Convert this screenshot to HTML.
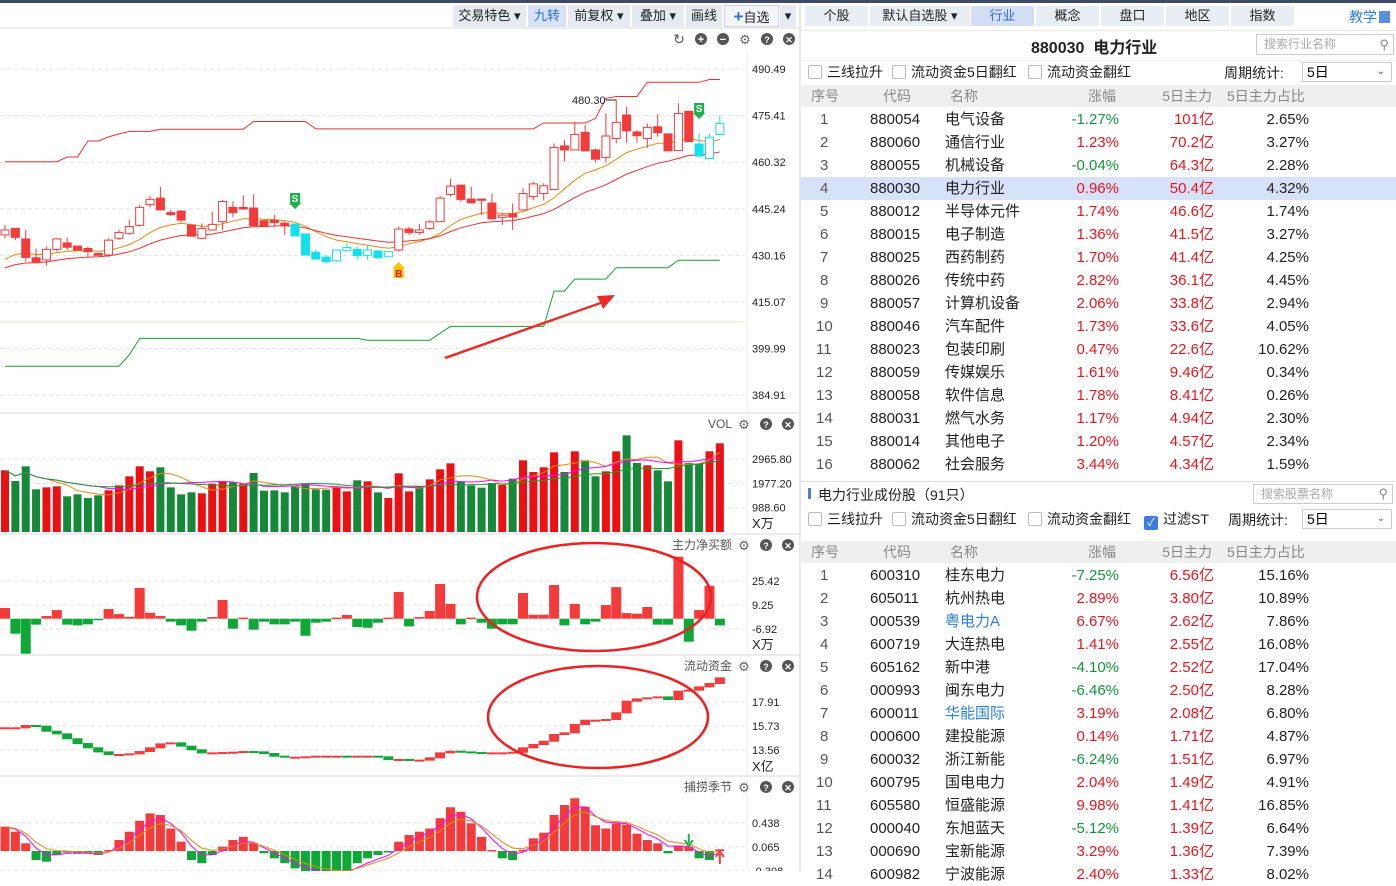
<!DOCTYPE html>
<html><head><meta charset="utf-8"><style>
*{margin:0;padding:0;box-sizing:border-box}
body{width:1396px;height:871px;overflow:hidden;background:#fff;font-family:"Liberation Sans","Noto Sans CJK SC",sans-serif;position:relative}
.abs{position:absolute}
.tb{position:absolute;top:5px;height:22px;background:#e6eaf0;font-size:13px;line-height:22px;text-align:center;color:#222}
.tab{position:absolute;top:6px;height:20px;background:#e8ecf3;font-size:13px;line-height:20px;text-align:center;color:#222}
.cb{position:absolute;font-size:14px;color:#222;line-height:18px}
.cb i{display:inline-block;width:14px;height:14px;border:1px solid #bbb;border-radius:2px;vertical-align:-2px;margin-right:5px;background:#fff}
.hdr{position:absolute;left:800px;width:596px;height:22px;background:#efefef;font-size:14px;color:#888;line-height:22px}
.row{position:absolute;left:800px;width:596px;height:23px;font-size:15px;line-height:23px;color:#222}
.row span,.hdr span{position:absolute}
.up{color:#e8141c}.dn{color:#13943c}
</style></head><body>
<div class="abs" style="left:0;top:0;width:1396px;height:3px;background:#3c4a66"></div>
<div class="abs" style="left:799px;top:3px;width:2px;height:868px;background:#e4e6ea"></div>

<div class="tb" style="left:453px;width:73px">交易特色 ▾</div>
<div class="tb" style="left:528px;width:38px;background:#d8e2f6;color:#2a6fd6">九转</div>
<div class="tb" style="left:568px;width:62px">前复权 ▾</div>
<div class="tb" style="left:632px;width:52px">叠加 ▾</div>
<div class="tb" style="left:686px;width:36px">画线</div>
<div class="tb" style="left:724px;width:55px;background:#f2f4f8;border:1px solid #cfd5de"><b style="color:#2a6fd6;font-size:17px">+</b>自选</div>
<div class="tb" style="left:780px;width:16px">▾</div>

<svg id="chart" class="abs" style="left:0;top:0" width="800" height="871"></svg>

<div class="tab" style="left:805px;width:63px">个股</div>
<div class="tab" style="left:870px;width:100px">默认自选股 ▾</div>
<div class="tab" style="left:971px;width:63px;background:#d3ddf3;color:#2a6fd6">行业</div>
<div class="tab" style="left:1036px;width:63px">概念</div>
<div class="tab" style="left:1101px;width:63px">盘口</div>
<div class="tab" style="left:1166px;width:63px">地区</div>
<div class="tab" style="left:1231px;width:63px">指数</div>
<div class="abs" style="left:1349px;top:7px;font-size:14px;color:#2a7de1">教学<span style="display:inline-block;width:11px;height:12px;background:#5b8fe0;margin-left:2px;vertical-align:-1px"></span></div>
<div class="abs" style="left:800px;top:30px;width:596px;height:1px;background:#e3e6ec"></div>
<div class="abs" style="left:1031px;top:34px;font-size:16px;font-weight:bold;color:#222">880030&nbsp; 电力行业</div>
<div class="abs" style="left:1256px;top:34px;width:138px;height:21px;border:1px solid #ccc;font-size:12px;color:#aaa;line-height:19px;padding-left:7px">搜索行业名称<span style="position:absolute;right:4px;top:0;color:#888;font-size:13px">⚲</span></div>
<div class="abs" style="left:800px;top:60px;width:596px;height:1px;background:#eceef2"></div>
<div class="cb" style="left:808px;top:63px"><i></i>三线拉升</div>
<div class="cb" style="left:892px;top:63px"><i></i>流动资金5日翻红</div>
<div class="cb" style="left:1028px;top:63px"><i></i>流动资金翻红</div>
<div class="cb" style="left:1224px;top:64px">周期统计:</div>
<div class="abs" style="left:1302px;top:62px;width:90px;height:20px;border:1px solid #ccc;font-size:14px;line-height:18px;padding-left:4px">5日<span style="position:absolute;right:6px;font-size:10px;color:#555">⌄</span></div>

<div id="t1"></div>

<div class="abs" style="left:800px;top:481px;width:596px;height:1px;background:#dcdfe6"></div>
<div class="abs" style="left:808px;top:488px;width:3px;height:11px;background:#4a7fe0"></div>
<div class="abs" style="left:818px;top:485px;font-size:14px;color:#222">电力行业成份股（91只）</div>
<div class="abs" style="left:1253px;top:484px;width:140px;height:20px;border:1px solid #ccc;font-size:12px;color:#aaa;line-height:18px;padding-left:7px">搜索股票名称<span style="position:absolute;right:4px;top:0;color:#888;font-size:13px">⚲</span></div>
<div class="cb" style="left:808px;top:510px"><i></i>三线拉升</div>
<div class="cb" style="left:892px;top:510px"><i></i>流动资金5日翻红</div>
<div class="cb" style="left:1028px;top:510px"><i></i>流动资金翻红</div>
<div class="cb" style="left:1144px;top:510px"><i style="background:#3d7ae6;border-color:#3d7ae6;color:#fff;font-style:normal;font-size:11px;line-height:12px;text-align:center">✓</i>过滤ST</div>
<div class="cb" style="left:1228px;top:511px">周期统计:</div>
<div class="abs" style="left:1302px;top:509px;width:90px;height:20px;border:1px solid #ccc;font-size:14px;line-height:18px;padding-left:4px">5日<span style="position:absolute;right:6px;font-size:10px;color:#555">⌄</span></div>
<div id="t2"></div>

<script>
const ind=[["880054","电气设备","-1.27%","101亿","2.65%"],["880060","通信行业","1.23%","70.2亿","3.27%"],["880055","机械设备","-0.04%","64.3亿","2.28%"],["880030","电力行业","0.96%","50.4亿","4.32%"],["880012","半导体元件","1.74%","46.6亿","1.74%"],["880015","电子制造","1.36%","41.5亿","3.27%"],["880025","西药制药","1.70%","41.4亿","4.25%"],["880026","传统中药","2.82%","36.1亿","4.45%"],["880057","计算机设备","2.06%","33.8亿","2.94%"],["880046","汽车配件","1.73%","33.6亿","4.05%"],["880023","包装印刷","0.47%","22.6亿","10.62%"],["880059","传媒娱乐","1.61%","9.46亿","0.34%"],["880058","软件信息","1.78%","8.41亿","0.26%"],["880031","燃气水务","1.17%","4.94亿","2.30%"],["880014","其他电子","1.20%","4.57亿","2.34%"],["880062","社会服务","3.44%","4.34亿","1.59%"]];
const stk=[["600310","桂东电力","-7.25%","6.56亿","15.16%"],["605011","杭州热电","2.89%","3.80亿","10.89%"],["000539","粤电力A","6.67%","2.62亿","7.86%"],["600719","大连热电","1.41%","2.55亿","16.08%"],["605162","新中港","-4.10%","2.52亿","17.04%"],["000993","闽东电力","-6.46%","2.50亿","8.28%"],["600011","华能国际","3.19%","2.08亿","6.80%"],["000600","建投能源","0.14%","1.71亿","4.87%"],["600032","浙江新能","-6.24%","1.51亿","6.97%"],["600795","国电电力","2.04%","1.49亿","4.91%"],["605580","恒盛能源","9.98%","1.41亿","16.85%"],["000040","东旭蓝天","-5.12%","1.39亿","6.64%"],["000690","宝新能源","3.29%","1.36亿","7.39%"],["600982","宁波能源","2.40%","1.33亿","8.02%"]];
const blueNames=["粤电力A","华能国际"];
function table(host,rows,hy,hl){
  const h=document.createElement('div');h.className='hdr';h.style.top=hy+'px';
  
  
  h.innerHTML='<span style="left:11px">序号</span><span style="left:83px">代码</span><span style="left:150px">名称</span><span style="right:280px">涨幅</span><span style="right:184px">5日主力</span><span style="left:427px">5日主力占比</span>';
  host.appendChild(h);
  rows.forEach((r,i)=>{
    const d=document.createElement('div');d.className='row';d.style.top=(hy+23+i*23)+'px';
    
    
    if(i===hl)d.style.background='#d7e1f9';
    const c=r[2][0]==='-'?'dn':'up';
    const nc=blueNames.includes(r[1])?'style="left:145px;color:#2a7de1"':'style="left:145px"';
    d.innerHTML=`<span style="left:${i<9?20:16}px;color:#555">${i+1}</span><span style="left:70px">${r[0]}</span><span ${nc}>${r[1]}</span><span class="${c}" style="right:277px">${r[2]}</span><span class="up" style="right:182px">${r[3]}</span><span style="right:87px">${r[4]}</span>`;
    host.appendChild(d);
  });
}
table(document.getElementById('t1'),ind,85,3);
table(document.getElementById('t2'),stk,541,-1);

const bodyHi=[438.4,438.9,435.5,429.4,432.1,435.5,434.2,433.2,432.4,430.8,435.1,437.6,439.5,445.7,448.3,448.7,444.0,444.5,440.0,438.9,440.2,447.6,445.7,445.7,445.5,441.4,441.5,440.6,440.3,437.1,431.2,429.6,431.9,432.7,432.1,431.9,431.6,431.4,438.7,438.7,438.4,441.0,448.7,452.6,452.9,448.4,448.4,447.1,443.2,443.6,450.2,453.3,452.7,465.1,465.6,469.3,470.0,464.3,468.8,473.2,475.6,470.1,471.6,471.8,469.5,476.1,476.8,466.2,468.4,472.9];
const bodyLo=[436.8,436.0,429.5,428.1,428.7,432.1,432.8,431.9,431.4,430.2,430.3,435.7,437.3,439.9,446.6,444.9,443.4,441.6,436.4,435.7,438.4,441.1,444.0,445.2,439.8,439.5,440.8,440.0,436.5,430.3,429.0,428.1,428.4,431.7,430.1,430.2,429.5,429.7,431.9,437.6,437.6,438.9,441.1,449.9,448.3,447.2,448.0,442.0,442.5,442.6,444.9,449.2,450.2,451.5,464.3,464.3,464.0,461.3,461.9,468.0,470.5,468.9,468.0,469.9,464.0,464.1,467.0,462.3,461.5,469.3];
const high=[440.0,438.9,438.4,432.4,433.0,435.7,436.0,433.2,433.0,430.8,435.7,438.4,441.6,446.5,449.4,452.4,444.9,444.9,440.0,440.5,444.3,448.1,447.7,449.6,450.0,441.4,443.2,441.1,440.3,437.1,432.1,430.3,432.1,434.1,433.0,433.2,431.9,431.4,439.5,439.5,440.3,441.6,449.4,454.9,452.9,452.4,448.4,450.2,443.8,447.0,451.9,454.0,453.5,466.4,467.5,473.4,472.4,464.8,476.1,480.7,478.3,470.7,472.9,475.9,469.5,479.4,476.8,469.7,469.5,475.6];
const low=[435.7,435.1,428.1,427.6,426.8,431.4,431.9,431.9,429.7,430.2,429.7,435.1,436.8,439.5,445.7,444.9,442.9,440.8,436.4,435.4,438.2,438.4,442.5,444.9,439.6,439.5,439.5,436.8,436.5,430.3,428.7,427.6,428.0,431.4,428.7,428.7,428.9,429.7,431.4,436.8,436.8,438.4,441.1,449.2,447.6,447.0,443.2,442.0,440.0,438.4,444.9,448.1,447.9,451.5,460.5,464.3,464.0,460.2,460.2,466.4,466.6,466.6,465.0,468.6,464.0,464.1,467.0,462.1,461.3,469.1];
const style=["h","f","f","f","h","h","f","f","f","f","h","h","h","h","h","f","f","f","f","h","h","h","f","f","f","f","f","f","c","c","c","c","ch","ch","c","ch","c","ch","h","f","h","h","h","h","f","f","f","f","h","f","h","h","h","h","f","h","f","f","h","h","f","f","h","f","f","h","f","c","ch","ch"];
const upperBand=[460.5,460.5,460.5,460.5,460.5,460.5,462.0,462.0,467.2,467.2,468.5,469.5,470.3,470.3,470.3,471.0,471.0,471.0,471.0,471.0,471.0,471.0,471.0,471.0,473.5,473.5,473.5,473.5,473.5,473.5,471.1,471.1,471.1,471.1,471.1,471.1,471.1,471.1,471.1,471.1,471.1,471.1,471.1,471.1,471.1,471.1,471.1,471.1,471.1,471.1,471.1,471.1,473.0,473.0,473.0,473.0,473.0,474.5,481.0,481.6,481.6,481.6,486.2,486.2,486.2,486.2,486.2,486.2,487.1,487.1];
const lowerBand=[394.3,394.3,394.3,394.3,394.3,394.3,394.3,394.3,394.3,394.3,394.3,394.3,398.0,403.3,403.3,403.3,403.3,403.3,403.3,403.3,403.3,403.3,403.3,403.3,403.3,403.3,403.3,403.3,403.3,403.3,403.3,403.3,403.3,403.3,403.3,402.7,402.7,402.7,402.7,402.7,402.7,402.7,405.0,407.2,407.2,407.2,407.2,407.2,407.2,407.2,407.2,407.2,407.2,418.6,418.6,422.5,422.5,422.5,422.5,426.2,426.2,426.2,426.2,426.2,426.2,428.6,428.6,428.6,428.6,428.6];
const priceTicks=[490.49,475.41,460.32,445.24,430.16,415.07,399.99,384.91];
const volume=[2509,2075,2671,1736,1817,1858,1451,1532,1383,1492,1695,1898,2265,2671,2468,2631,1817,1532,1614,1573,1966,2061,2020,1966,2400,1681,1695,1614,1858,1966,1736,1722,1831,1654,2102,2061,1614,1383,2387,1654,1858,2142,2549,2793,2061,1898,1803,1993,1912,2170,2915,2441,2631,3241,2441,3282,2915,2265,2468,3282,3932,2807,2712,2509,2061,3729,2807,2780,3282,3607];
const volUp=[1,0,0,0,1,1,0,0,0,0,1,1,1,1,1,0,0,0,0,1,1,1,0,1,0,0,0,0,0,0,0,0,1,1,0,1,0,1,1,1,0,1,1,1,0,0,0,0,1,0,1,1,1,1,0,1,0,0,1,1,0,0,1,0,0,1,0,0,1,1];
const volTicks=[2965.80,1977.20,988.60];
const mainNet=[7.2,-10.1,-23.6,-4.0,1.8,5.8,-4.0,-4.5,-3.8,-0.9,6.5,3.1,1.3,20.7,4.0,1.8,-2.0,-4.5,-8.1,-2.0,1.1,12.6,-6.7,0.7,-7.4,-2.0,-3.8,-3.8,-2.0,-11.5,-2.7,-2.0,0.7,2.5,-5.6,-6.1,-2.7,0.7,18.0,-5.2,1.1,5.2,23.4,9.9,-3.8,0.7,-2.7,-6.7,-3.8,-3.8,17.3,2.7,2.7,22.7,-4.5,9.9,-3.8,-2.0,9.2,21.3,3.8,3.4,7.9,-4.0,-4.0,41.8,-15.5,5.8,22.2,-4.5];
const netTicks=[25.42,9.25,-6.92];
const flowFund=[15.52,15.52,15.73,15.67,15.21,14.97,14.52,14.09,13.70,13.33,13.09,13.09,13.15,13.36,13.70,14.06,14.15,13.85,13.52,13.24,13.24,13.27,13.30,13.36,13.33,13.18,12.94,12.85,12.85,12.88,12.94,12.94,12.94,12.91,12.94,12.94,12.88,12.64,12.64,12.58,12.58,12.79,13.24,13.39,13.33,13.27,13.24,13.24,13.24,13.30,13.70,14.00,14.30,14.91,15.06,15.82,16.21,16.21,16.27,16.88,17.94,18.15,18.24,18.33,18.09,18.85,18.94,19.24,19.55,20.06];
const flowTicks=[17.91,15.73,13.56];
const season=[0.378,0.30,0.12,-0.14,-0.166,-0.062,-0.01,-0.036,-0.036,-0.062,0.016,0.171,0.30,0.47,0.585,0.56,0.35,0.145,-0.14,-0.19,-0.062,0.067,0.171,0.22,0.12,-0.036,-0.114,-0.19,-0.27,-0.32,-0.35,-0.35,-0.35,-0.32,-0.19,-0.114,-0.062,-0.01,0.145,0.25,0.30,0.35,0.51,0.68,0.61,0.43,0.22,0.016,-0.114,-0.14,0.016,0.197,0.285,0.56,0.715,0.82,0.69,0.40,0.35,0.43,0.41,0.27,0.171,0.12,-0.036,0.078,0.067,-0.114,-0.14,0.026];
const seasonTicks=[0.438,0.065,-0.308];

const N=bodyHi.length;
const X=i=>5+i*10.36;
const yP=p=>69+(490.49-p)*3.09;
const yV=v=>532-v*24.3/988.6;
const yN=v=>618.7-v*1.484;
const yF=v=>702+(17.91-v)*11.0;
const yS=v=>851-v*64.3;
const svg=document.getElementById('chart');
const NS='http://www.w3.org/2000/svg';
function el(t,a,par){const e=document.createElementNS(NS,t);for(const k in a)e.setAttribute(k,a[k]);(par||svg).appendChild(e);return e;}
function txt(x,y,s,a){const e=el('text',Object.assign({x:x,y:y,'font-size':11,fill:'#222','font-family':'Liberation Sans, Noto Sans CJK SC, sans-serif'},a||{}));e.textContent=s;return e;}
function pathOf(arr,fy){return arr.map((v,i)=>(i?'L':'M')+X(i).toFixed(1)+' '+fy(v).toFixed(1)).join(' ');}
function ema(arr,n,seed){let r=[],e=seed===undefined?arr[0]:seed,a=2/(n+1);arr.forEach(v=>{e=e+a*(v-e);r.push(e)});return r;}
function ma(arr,n){return arr.map((v,i)=>{let s=0,c=0;for(let j=Math.max(0,i-n+1);j<=i;j++){s+=arr[j];c++}return s/c});}

[28,413,534,655,776].forEach(y=>{const l=el('line',{x1:0,x2:799,y1:y,y2:y,stroke:'#e3e5e9','stroke-width':1.5});});
const axl=el('line',{x1:747,x2:747,y1:50,y2:871,stroke:'#eceef1'});



txt(679,44,'↻',{'font-size':14,'text-anchor':'middle',fill:'#555'});
[['+',701],['−',723]].forEach(p=>{el('circle',{cx:p[1],cy:39,r:6,fill:'#555'});txt(p[1],43,p[0],{'font-size':11,fill:'#fff','text-anchor':'middle','font-weight':'bold'});});
txt(745,44,'⚙',{'font-size':13,'text-anchor':'middle',fill:'#666'});
[['?',767],['✕',789]].forEach(p=>{el('circle',{cx:p[1],cy:39,r:6,fill:'#555'});txt(p[1],43,p[0],{'font-size':9,fill:'#fff','text-anchor':'middle','font-weight':'bold'});});
[[424,'VOL'],[545,'主力净买额'],[666,'流动资金'],[787,'捕捞季节']].forEach(p=>{
  const t=txt(732,p[0]+4,p[1],{'font-size':12,fill:'#555','text-anchor':'end'});
  
  
  txt(744,p[0]+5,'⚙',{'font-size':13,'text-anchor':'middle',fill:'#666'});
  [['?',766],['✕',788]].forEach(q=>{el('circle',{cx:q[1],cy:p[0],r:6,fill:'#555'});txt(q[1],p[0]+4,q[0],{'font-size':9,fill:'#fff','text-anchor':'middle','font-weight':'bold'});});
});

priceTicks.forEach(p=>{const y=yP(p);el('line',{x1:0,x2:745,y1:y,y2:y,stroke:'#e2e2e2','stroke-dasharray':'4 3'});const t=txt(752,y+4,p.toFixed(2));});
el('line',{x1:0,x2:745,y1:322,y2:322,stroke:'#f7d9bd'});
const ub=el('path',{d:pathOf(upperBand,yP),fill:'none',stroke:'#ee3030','stroke-width':1});


const lb=el('path',{d:pathOf(lowerBand,yP),fill:'none',stroke:'#13a02e','stroke-width':1});


const mid=bodyHi.map((h,i)=>(h+bodyLo[i])/2);
const ma1=el('path',{d:pathOf(ema(mid,10,427.0),yP),fill:'none',stroke:'#e08a10','stroke-width':1});


const ma2=el('path',{d:pathOf(ema(mid,20,424.9),yP),fill:'none',stroke:'#ee3030','stroke-width':1});


for(let i=0;i<N;i++){
  const s=style[i],x=X(i),cyan=s[0]==='c',col=cyan?'#12e0ea':'#f23b3b',hollow=(s==='h'||s==='ch');
  const g=el('g',{});
  
  
  el('line',{x1:x,x2:x,y1:yP(high[i]),y2:yP(low[i]),stroke:col},g);
  const t=yP(bodyHi[i]),b=yP(bodyLo[i]);
  el('rect',{x:x-4,y:t,width:8,height:Math.max(1,b-t),fill:hollow?'#fff':col,stroke:col,'stroke-width':1},g);
}
txt(572,104,'480.30',{'font-size':11,fill:'#222'});
el('line',{x1:606,x2:616,y1:100,y2:100,stroke:'#222'});
function sig(i,y,ch,bg,fg,down){const g=el('g',{});const x=X(i);if(down){el('rect',{x:x-5,y:y-7,width:10,height:11,fill:bg},g);el('path',{d:`M${x-6} ${y+3}L${x+6} ${y+3}L${x} ${y+9}Z`,fill:bg},g);}else{el('path',{d:`M${x-6} ${y-3}L${x+6} ${y-3}L${x} ${y-9}Z`,fill:bg},g);el('rect',{x:x-5,y:y-4,width:10,height:11,fill:bg},g);}const t=txt(x,y+(down?2:6),ch,{'font-size':10,fill:fg,'text-anchor':'middle','font-weight':'bold'});g.appendChild(t);}
sig(28,200,'S','#19b24a','#fff',true);
sig(67,110,'S','#19b24a','#fff',true);
sig(38,271,'B','#f7c600','#e8141c',false);
const arr=el('g',{});


el('path',{d:'M444 357 L600 302 L597 296 L615 295 L603 309 L601 304 L446 359 Z',fill:'#ee2a24'},arr);

volTicks.forEach(v=>{const y=yV(v);el('line',{x1:0,x2:745,y1:y,y2:y,stroke:'#e2e2e2','stroke-dasharray':'4 3'});txt(752,y+4,v.toFixed(2));});
txt(752,528,'X万',{'font-size':13});
volume.forEach((v,i)=>{const r=el('rect',{x:X(i)-4,y:yV(v),width:8,height:532-yV(v),fill:volUp[i]?'#ea1014':'#16883a'});});
[[5,'#e08a10'],[10,'#f0f'],[20,'#13a02e']].forEach(p=>{const l=el('path',{d:pathOf(ma(volume,p[0]),yV),fill:'none',stroke:p[1],'stroke-width':1});});

netTicks.forEach(v=>{const y=yN(v);el('line',{x1:0,x2:745,y1:y,y2:y,stroke:'#e2e2e2','stroke-dasharray':'4 3'});txt(752,y+4,v.toFixed(2));});
txt(752,649,'X万',{'font-size':13});
mainNet.forEach((v,i)=>{const y0=yN(0),y=yN(v);const r=el('rect',{x:X(i)-5,y:Math.min(y0,y),width:10,height:Math.max(1.5,Math.abs(y-y0)),fill:v>=0?'#f33b3b':'#0fa838'});});

flowTicks.forEach(v=>{const y=yF(v);el('line',{x1:0,x2:745,y1:y,y2:y,stroke:'#e2e2e2','stroke-dasharray':'4 3'});txt(752,y+4,v.toFixed(2));});
txt(752,771,'X亿',{'font-size':13});
flowFund.forEach((v,i)=>{const p=i?flowFund[i-1]:v;const a=yF(Math.max(p,v)),b=yF(Math.min(p,v));const up=v>=p;const r=el('rect',{x:X(i)-5,y:a-1,width:10,height:Math.max(2,b-a+1),fill:up?'#f33b3b':'#0fa838'});});

seasonTicks.forEach(v=>{const y=yS(v);el('line',{x1:0,x2:745,y1:y,y2:y,stroke:'#e2e2e2','stroke-dasharray':'4 3'});txt(752,y+4,v.toFixed(3));});
season.forEach((v,i)=>{const y0=yS(0),y=yS(v);const r=el('rect',{x:X(i)-4.5,y:Math.min(y0,y),width:9,height:Math.max(1.5,Math.abs(y-y0)),fill:v>=0?'#f33b3b':'#0fa838'});});
const s1=el('path',{d:pathOf(ema(season,3),yS),fill:'none',stroke:'#f0f','stroke-width':1});


const s2=el('path',{d:pathOf(ema(season,5),yS),fill:'none',stroke:'#e08a10','stroke-width':1});


el('path',{d:`M${X(66)} 834 L${X(66)} 843 M${X(66)-4} 840 L${X(66)} 846 L${X(66)+4} 840`,stroke:'#19b24a','stroke-width':2,fill:'none'});
el('path',{d:`M${X(69)} 864 L${X(69)} 854 M${X(69)-4} 857 L${X(69)} 851 L${X(69)+4} 857`,stroke:'#f33b3b','stroke-width':2,fill:'none'});

const e1=el('ellipse',{cx:594,cy:597,rx:117,ry:54,fill:'none',stroke:'#ee2020','stroke-width':2.5});


const e2=el('ellipse',{cx:598,cy:717,rx:110,ry:51,fill:'none',stroke:'#ee2020','stroke-width':2.5});


</script>
</body></html>
